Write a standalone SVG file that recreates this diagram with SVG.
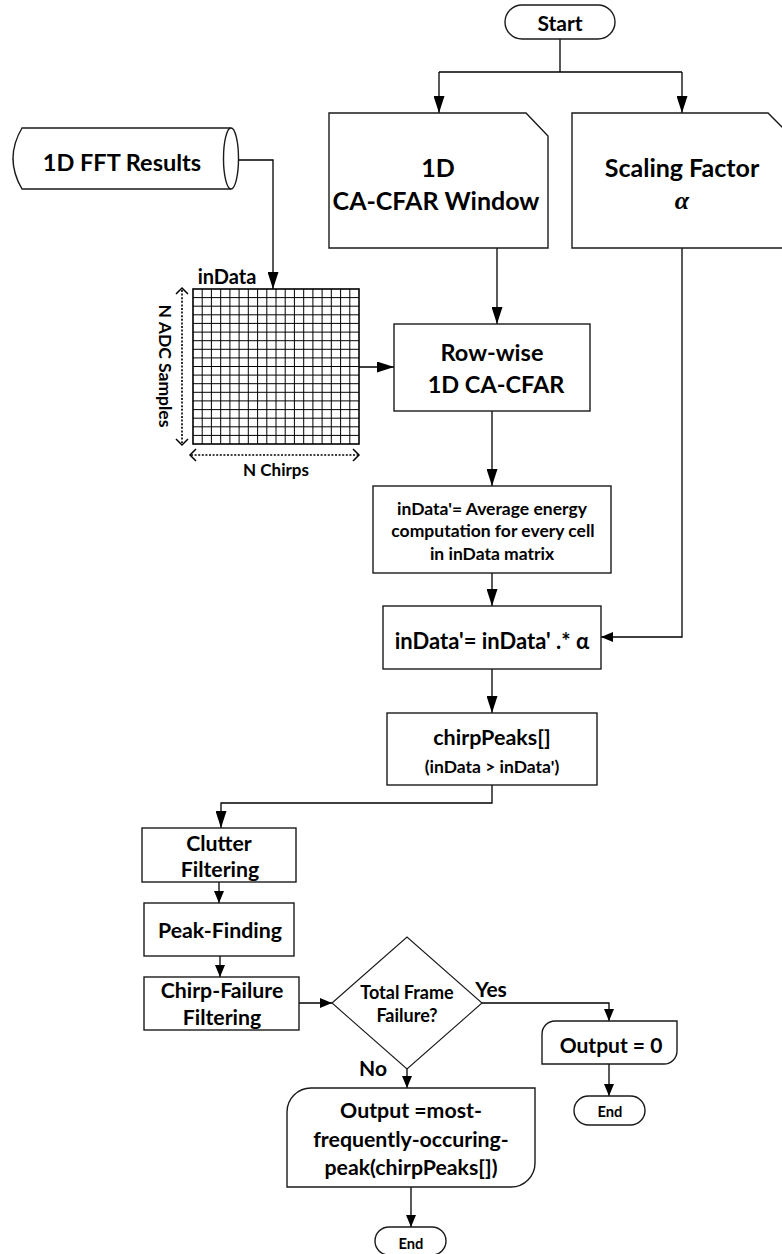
<svg xmlns="http://www.w3.org/2000/svg" width="782" height="1254" viewBox="0 0 782 1254">
<style>
text{font-family:Lato,"Liberation Sans",sans-serif;font-weight:700;fill:#000;text-anchor:middle;dominant-baseline:central}
.box{fill:#fff;stroke:#1a1a1a;stroke-width:1.4}
.thin{fill:#fff;stroke:#1a1a1a;stroke-width:1.1}
.ln{fill:none;stroke:#000;stroke-width:1.3}
.dot{fill:none;stroke:#000;stroke-width:1.6;stroke-dasharray:2 1.6}
.chev{fill:none;stroke:#000;stroke-width:1.5}
.grid{fill:none;stroke:#000;stroke-width:1}
</style>
<defs>
<marker id="aL" markerUnits="userSpaceOnUse" markerWidth="17" markerHeight="11" refX="17" refY="5.5" orient="auto"><path d="M0,0 L17,5.5 L0,11 Z" fill="#000"/></marker>
<marker id="aS" markerUnits="userSpaceOnUse" markerWidth="12" markerHeight="10" refX="12" refY="5" orient="auto"><path d="M0,0 L12,5 L0,10 Z" fill="#000"/></marker>
</defs>
<rect width="782" height="1254" fill="#fff"/>

<g id="connectors">
<path class="ln" d="M560,39 V72 M439,72 H682"/>
<path class="ln" d="M439,72 V113" marker-end="url(#aL)"/>
<path class="ln" d="M682,72 V113" marker-end="url(#aL)"/>
<path class="ln" d="M239,160 H273 V289" marker-end="url(#aL)"/>
<path class="ln" d="M359,367 H394" marker-end="url(#aL)"/>
<path class="ln" d="M497,248 V324" marker-end="url(#aL)"/>
<path class="ln" d="M492,411 V486" marker-end="url(#aL)"/>
<path class="ln" d="M492,573 V606" marker-end="url(#aL)"/>
<path class="ln" d="M682,248 V637 H601" marker-end="url(#aS)"/>
<path class="ln" d="M492,669 V713" marker-end="url(#aL)"/>
<path class="ln" d="M492,785 V803 H221 V828" marker-end="url(#aL)"/>
<path class="ln" d="M219,882 V903" marker-end="url(#aS)"/>
<path class="ln" d="M220,956 V977" marker-end="url(#aS)"/>
<path class="ln" d="M299,1003 H332" marker-end="url(#aS)"/>
<path class="ln" d="M482,1003 H609 V1021" marker-end="url(#aS)"/>
<path class="ln" d="M407,1069 V1088" marker-end="url(#aS)"/>
<path class="ln" d="M609,1064 V1096" marker-end="url(#aS)"/>
<path class="ln" d="M411,1187 V1227" marker-end="url(#aS)"/>
</g>

<g id="start">
<rect class="box" x="505" y="5" width="110" height="34" rx="17"/>
<text x="560" y="22" font-size="21">Start</text>
</g>

<g id="window">
<path class="box" d="M329,113 H526 L548,136 V248 H329 Z"/>
<text x="438" y="167" font-size="25">1D</text>
<text x="436" y="200" font-size="25">CA-CFAR Window</text>
</g>

<g id="scaling">
<path class="box" d="M572,113 H768 L790,135 V248 H572 Z"/>
<text x="682" y="167" font-size="25">Scaling Factor</text>
<text x="682" y="200" font-size="26" style="font-family:'Liberation Serif',serif;font-style:italic">α</text>
</g>

<g id="fft">
<path class="box" d="M22,128 H231 A7.5,30.5 0 0 1 231,189 H22 Q4,158.5 22,128 Z"/>
<path class="box" d="M231,128 A7.5,30.5 0 0 0 231,189" fill="none"/>
<text x="122" y="162" font-size="23.5">1D FFT Results</text>
</g>

<g id="indata">
<text x="227" y="276" font-size="20">inData</text>
<rect x="193" y="289" width="166" height="155" fill="#fff" stroke="#000" stroke-width="1.6"/>
<path class="grid" d="M202.2,289V444M211.4,289V444M220.7,289V444M229.9,289V444M239.1,289V444M248.3,289V444M257.6,289V444M266.8,289V444M276,289V444M285.2,289V444M294.4,289V444M303.7,289V444M312.9,289V444M322.1,289V444M331.3,289V444M340.6,289V444M349.8,289V444
M193,297.6H359M193,306.2H359M193,314.8H359M193,323.4H359M193,332.1H359M193,340.7H359M193,349.3H359M193,357.9H359M193,366.5H359M193,375.1H359M193,383.7H359M193,392.3H359M193,400.9H359M193,409.6H359M193,418.2H359M193,426.8H359M193,435.4H359"/>
<path class="dot" d="M182,290 V443"/>
<path class="chev" d="M176,294 L182,288 L188,294 M176,439 L182,445 L188,439"/>
<path class="dot" d="M191,455 H358"/>
<path class="chev" d="M196,449 L190,455 L196,461 M353,449 L359,455 L353,461"/>
<text x="165" y="366" font-size="17.5" transform="rotate(90 165 366)">N ADC Samples</text>
<text x="276" y="469" font-size="17">N Chirps</text>
</g>

<g id="rowwise">
<rect class="box" x="394" y="324" width="196" height="87"/>
<text x="492" y="352" font-size="23.5">Row-wise</text>
<text x="496" y="384" font-size="23.5">1D CA-CFAR</text>
</g>

<g id="average">
<rect class="box" x="373" y="486" width="238" height="87"/>
<text x="492" y="508" font-size="17.5">inData'= Average energy</text>
<text x="493" y="530" font-size="17.5">computation for every cell</text>
<text x="492" y="553" font-size="17.5">in inData matrix</text>
</g>

<g id="scale">
<rect class="box" x="383" y="606" width="218" height="63"/>
<text x="492" y="640" font-size="22">inData'= inData' .* α</text>
</g>

<g id="chirppeaks">
<rect class="box" x="387" y="713" width="210" height="72"/>
<text x="492" y="737" font-size="21.5">chirpPeaks[]</text>
<text x="492" y="766" font-size="17.5">(inData &gt; inData')</text>
</g>

<g id="clutter">
<rect class="box" x="142" y="828" width="154" height="54"/>
<text x="219" y="843" font-size="21.3">Clutter</text>
<text x="220" y="869" font-size="21.3">Filtering</text>
</g>

<g id="peak">
<rect class="box" x="144" y="903" width="150" height="53"/>
<text x="220" y="930" font-size="21.3">Peak-Finding</text>
</g>

<g id="chirpfail">
<rect class="box" x="144" y="977" width="155" height="53"/>
<text x="222" y="990" font-size="21.3">Chirp-Failure</text>
<text x="222" y="1017" font-size="21.3">Filtering</text>
</g>

<g id="decision">
<path class="thin" d="M332,1003 L407,937 L482,1003 L407,1069 Z"/>
<text x="407" y="992" font-size="18">Total Frame</text>
<text x="407" y="1015" font-size="18">Failure?</text>
<text x="491" y="988" font-size="21">Yes</text>
<text x="373" y="1067" font-size="21">No</text>
</g>

<g id="output0">
<path class="box" d="M555,1021 H677 V1051 A13,13 0 0 1 664,1064 H542 V1034 A13,13 0 0 1 555,1021 Z"/>
<text x="611" y="1044" font-size="21">Output = 0</text>
</g>

<g id="end1">
<rect class="box" x="574" y="1096" width="71" height="29" rx="14.5"/>
<text x="610" y="1111" font-size="14.7">End</text>
</g>

<g id="outputmost">
<path class="box" d="M311,1088 H535 V1163 A24,24 0 0 1 511,1187 H287 V1112 A24,24 0 0 1 311,1088 Z"/>
<text x="411" y="1110" font-size="21.3">Output =most-</text>
<text x="411" y="1139" font-size="21.3">frequently-occuring-</text>
<text x="411" y="1167" font-size="21.3">peak(chirpPeaks[])</text>
</g>

<g id="end2">
<rect class="box" x="375" y="1227" width="71" height="28" rx="14"/>
<text x="411" y="1243" font-size="14.7">End</text>
</g>
</svg>
